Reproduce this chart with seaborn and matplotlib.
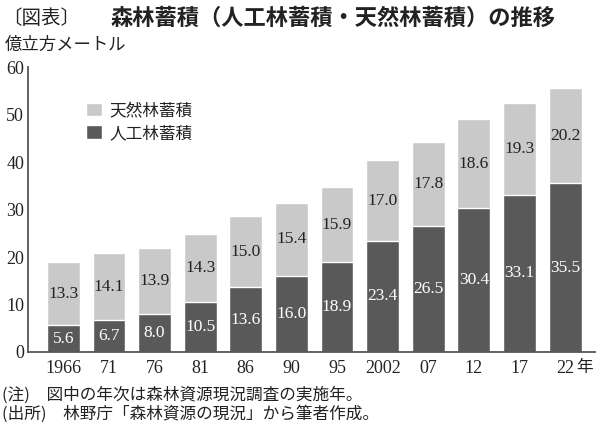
import pandas as pd
import seaborn as sns
import matplotlib.pyplot as plt

# 森林蓄積（億立方メートル）
years = ['1966', '71', '76', '81', '86', '90', '95', '2002', '07', '12', '17', '22']
planted = [5.6, 6.7, 8.0, 10.5, 13.6, 16.0, 18.9, 23.4, 26.5, 30.4, 33.1, 35.5]
natural = [13.3, 14.1, 13.9, 14.3, 15.0, 15.4, 15.9, 17.0, 17.8, 18.6, 19.3, 20.2]

DARK = '#595959'
LIGHT = '#c9c9c9'
AXIS = '#555555'
JP = ['Noto Sans CJK JP', 'DejaVu Sans']
NUM = ['Liberation Serif', 'DejaVu Serif']

sns.set_theme(style='white')
plt.rcParams['font.family'] = NUM

df = pd.DataFrame({'year': years, 'planted': planted, 'natural': natural})
df['total'] = df['planted'] + df['natural']

fig = plt.figure(figsize=(6, 4.29), dpi=100)
ax = fig.add_axes([0.047, 0.1795, 0.945, 0.664])

# 積み上げ: 合計を薄色で描いてから人工林を濃色で重ねる
sns.barplot(data=df, x='year', y='total', color=LIGHT, saturation=1,
            width=0.72, ax=ax, label='天然林蓄積')
sns.barplot(data=df, x='year', y='planted', color=DARK, saturation=1,
            width=0.72, ax=ax, label='人工林蓄積')

for i, (p, n) in enumerate(zip(planted, natural)):
    ax.text(i, p / 2, f'{p:.1f}', ha='center', va='center', color='white', fontsize=12.5)
    ax.text(i, p + n / 2, f'{n:.1f}', ha='center', va='center', color='#222222', fontsize=12.5)

ax.set_ylim(0, 60)
ax.set_yticks(range(0, 61, 10))
ax.set_xlim(-0.77, 11.66)
ax.set_xlabel('')
ax.set_ylabel('')
ax.tick_params(axis='y', direction='in', length=4, width=1.2, color=AXIS,
               labelsize=13, pad=3, labelcolor='#222222')
ax.tick_params(axis='x', length=0, labelsize=13, pad=6, labelcolor='#222222')
ax.annotate('年', xy=(11, 0), xycoords=('data', 'axes fraction'),
            xytext=(14, -5), textcoords='offset points', ha='center', va='top',
            fontsize=12, family=JP, color='#222222')

sns.despine(ax=ax)
for side in ['left', 'bottom']:
    ax.spines[side].set_color(AXIS)
    ax.spines[side].set_linewidth(1.3)

ax.legend(loc='upper left', bbox_to_anchor=(0.075, 0.93), frameon=False,
          prop={'family': JP, 'size': 12}, handlelength=1.0, handleheight=0.85,
          handletextpad=0.4, labelspacing=0.35, labelcolor='#222222')

fig.text(0.003, 1 - 18 / 429, '〔図表〕', family=JP, fontsize=14, va='center', color='#222222')
fig.text(110 / 600, 1 - 18 / 429, '森林蓄積（人工林蓄積・天然林蓄積）の推移', family=JP,
         fontsize=16, weight='bold', va='center', color='#222222')
fig.text(0.008, 1 - 45 / 429, '億立方メートル', family=JP, fontsize=12.5, va='center', color='#222222')
fig.text(0.003, 1 - 395 / 429, '(注)　図中の年次は森林資源現況調査の実施年。', family=JP,
         fontsize=12, va='center', color='#222222')
fig.text(0.003, 1 - 414 / 429, '(出所)　林野庁「森林資源の現況」から筆者作成。', family=JP,
         fontsize=12, va='center', color='#222222')

fig.savefig('out.png', dpi=100)
